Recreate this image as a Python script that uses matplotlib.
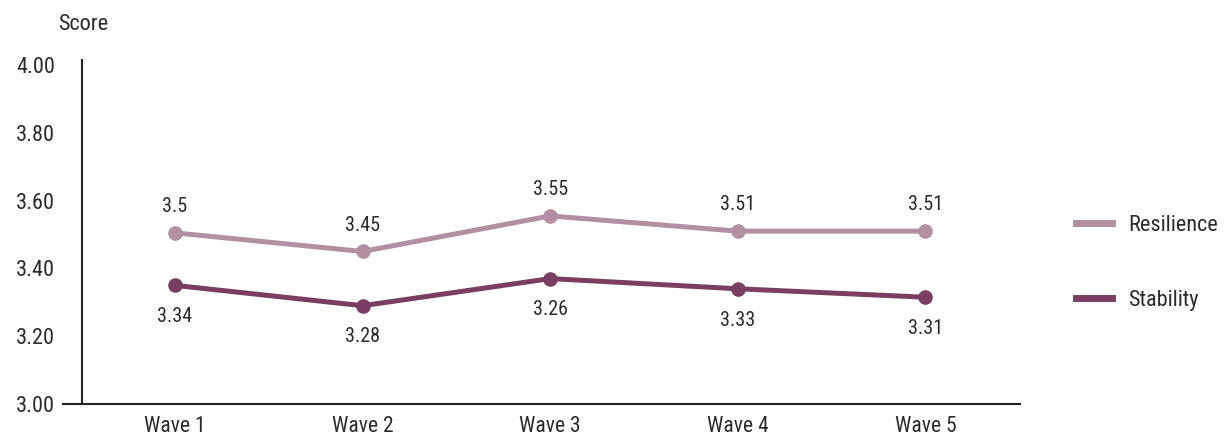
import matplotlib
matplotlib.use("Agg")
import matplotlib.pyplot as plt
from matplotlib.lines import Line2D

waves = ["Wave 1", "Wave 2", "Wave 3", "Wave 4", "Wave 5"]
resilience = [3.505, 3.45, 3.555, 3.51, 3.51]
stability = [3.35, 3.29, 3.37, 3.34, 3.315]
resilience_labels = ["3.5", "3.45", "3.55", "3.51", "3.51"]
stability_labels = ["3.34", "3.28", "3.26", "3.33", "3.31"]
yticks = [3.00, 3.20, 3.40, 3.60, 3.80, 4.00]

c_res = "#b38fa2"
c_stab = "#7a3e62"
txt = "#2b2b2b"

plt.rcParams['font.family'] = ['Roboto Condensed', 'DejaVu Sans']

fig = plt.figure(figsize=(12.24, 4.36), dpi=100)
ax = fig.add_axes([63/1224, 32/436, (1020-63)/1224, (404-60)/436])

x = list(range(len(waves)))
ax.plot(x, resilience, color=c_res, lw=3.6, marker='o', ms=9.5, solid_capstyle='round', zorder=3)
ax.plot(x, stability, color=c_stab, lw=3.6, marker='o', ms=9.5, solid_capstyle='round', zorder=3)

for xi, v, lab in zip(x, resilience, resilience_labels):
    ax.annotate(lab, (xi, v), xytext=(0, 19), textcoords='offset points',
                ha='center', va='center', fontsize=14.5, color=txt)
for xi, v, lab in zip(x, stability, stability_labels):
    ax.annotate(lab, (xi, v), xytext=(0, -22.5), textcoords='offset points',
                ha='center', va='center', fontsize=14.5, color=txt)

ax.set_xlim(-0.597, 4.504)
ax.set_ylim(3.0, 4.015)
ax.set_xticks(x)
ax.set_xticklabels(waves)
ax.set_yticks(yticks)
ax.set_yticklabels([f"{t:.2f}" for t in yticks])
ax.tick_params(axis='both', length=0, colors=txt)
ax.tick_params(axis='y', pad=19.5, labelsize=16)
ax.tick_params(axis='x', pad=8.5, labelsize=15.5)

for s in ['top', 'right']:
    ax.spines[s].set_visible(False)
ax.spines['left'].set_position(('data', -0.496))
for s in ['left', 'bottom']:
    ax.spines[s].set_color('#222222')
    ax.spines[s].set_linewidth(1.5)

fig.text(83.5/1224, 1 - 25/436, "Score", ha='center', va='center', fontsize=16, color=txt)

handles = [Line2D([], [], color=c_res, lw=5),
           Line2D([], [], color=c_stab, lw=5)]
fig.legend(handles, ["Resilience", "Stability"], loc='center left',
           bbox_to_anchor=(1076/1224, 1 - 263/436), frameon=False,
           fontsize=16, handlelength=1.6, handletextpad=0.75,
           labelspacing=2.45, borderpad=0, borderaxespad=0, labelcolor=txt)

fig.savefig("out.png", dpi=100)
